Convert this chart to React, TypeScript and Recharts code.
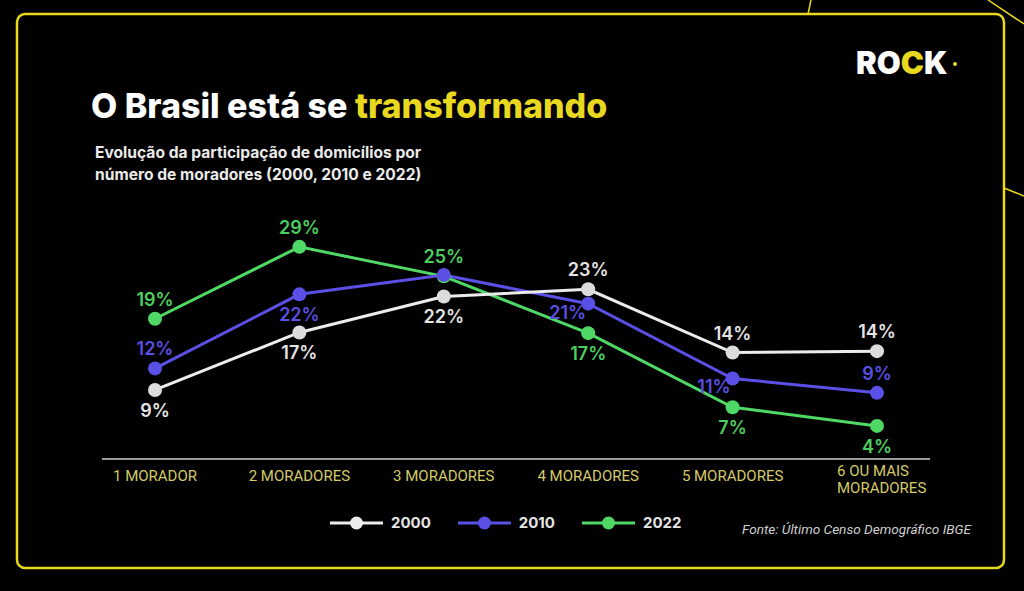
import { LineChart, Line, XAxis, YAxis, LabelList } from "recharts";

const categories = ["1 MORADOR", "2 MORADORES", "3 MORADORES", "4 MORADORES", "5 MORADORES", "6 OU MAIS\nMORADORES"];
const years = ["2000", "2010", "2022"];
const s2000 = [9, 17, 22, 23, 14.2, 14.4];
const s2010 = [12, 22.3, 25, 21, 10.6, 8.6];
const s2022 = [18.9, 28.9, 24.8, 16.9, 6.6, 4];
// where each value label sits relative to its point
const pos2000 = ["bottom", "bottom", "bottom", "top", "top", "top"];
const pos2010 = ["top", "bottom", "none", "left", "left", "top"];
const pos2022 = ["top", "top", "top", "bottom", "bottom", "bottom"];

const C2000 = "#ececec";
const C2010 = "#5b50e6";
const C2022 = "#4fd865";
const YELLOW = "#e8d81f";

const data = categories.map((c, i) => ({ cat: c, y2000: s2000[i], y2010: s2010[i], y2022: s2022[i] }));

const FONT = "Inter, 'Noto Sans', sans-serif";

function makeLabel(positions: string[], color: string) {
  return (p: any) => {
    const { x, y, value, index } = p;
    const where = positions[index];
    if (where === "none") return null;
    let tx = x, ty = y, anchor = "middle";
    if (where === "top") ty = y - 13;
    if (where === "bottom") ty = y + 27;
    if (where === "left") { tx = x - 2; ty = y + 15; anchor = "end"; }
    return (
      <text x={tx} y={ty} fill={color} textAnchor={anchor} fontFamily={FONT} fontSize={18} fontWeight={600}>
        {Math.round(value)}%
      </text>
    );
  };
}

function Tick(p: any) {
  const { x, y, payload } = p;
  const lines = String(payload.value).split("\n");
  const multi = lines.length > 1;
  const tx = multi ? x - 40 : x;
  return (
    <text x={tx} y={y + 14 - (lines.length - 1) * 5} fill="#d4ca66" fontFamily="Roboto, sans-serif" fontSize={15} textAnchor={multi ? "start" : "middle"}>
      {lines.map((l, i) => (
        <tspan key={i} x={tx} dy={i === 0 ? 0 : 17}>{l}</tspan>
      ))}
    </text>
  );
}

function LegendBox() {
  const colors = [C2000, C2010, C2022];
  return (
    <div style={{ display: "flex", gap: 27, alignItems: "center" }}>
      {years.map((yr, i) => (
        <div key={yr} style={{ display: "flex", alignItems: "center", gap: 8 }}>
          <svg width={53} height={14}>
            <line x1={0} y1={7} x2={53} y2={7} stroke={colors[i]} strokeWidth={3} />
            <circle cx={26.5} cy={7} r={6.5} fill={colors[i]} />
          </svg>
          <span style={{ color: "#e6e6e6", fontFamily: FONT, fontWeight: 700, fontSize: 15 }}>{yr}</span>
        </div>
      ))}
    </div>
  );
}

export default function App() {
  return (
    <div style={{ position: "absolute", left: 0, top: 0, width: 1024, height: 591, background: "#000", overflow: "hidden" }}>
      <svg width={1024} height={591} style={{ position: "absolute", left: 0, top: 0 }}>
        <rect x={17} y={14} width={987} height={554} rx={8} fill="none" stroke={YELLOW} strokeWidth={2.5} />
        <line x1={811} y1={0} x2={808} y2={14} stroke={YELLOW} strokeWidth={1.5} />
        <line x1={988} y1={0} x2={1024} y2={24} stroke={YELLOW} strokeWidth={1.5} />
        <line x1={1004} y1={188} x2={1024} y2={196} stroke={YELLOW} strokeWidth={1.5} />
        <text x={856} y={74} fontFamily={FONT} fontSize={31} fontWeight={900} fill="#fff">
          RO<tspan fill={YELLOW}>C</tspan>K
        </text>
        <circle cx={955} cy={64} r={2} fill={YELLOW} />
        <text x={91} y={118} fontFamily={FONT} fontSize={34} fontWeight={800} fill="#fff">
          O Brasil está se <tspan fill={YELLOW}>transformando</tspan>
        </text>
        <text x={95} y={158} fontFamily={FONT} fontSize={15.6} fontWeight={700} fill="#eaeaea">Evolução da participação de domicílios por</text>
        <text x={95} y={180} fontFamily={FONT} fontSize={15.6} fontWeight={700} fill="#eaeaea">número de moradores (2000, 2010 e 2022)</text>
        <text x={742} y={534} fontFamily="Roboto, sans-serif" fontSize={13.6} fontStyle="italic" fill="#cfcfcf">Fonte: Último Censo Demográfico IBGE</text>
      </svg>
      <div style={{ position: "absolute", left: 0, top: 0 }}>
        <LineChart width={1024} height={591} data={data} margin={{ top: 203, right: 94, left: 102, bottom: 82 }}>
          <XAxis dataKey="cat" height={50} padding={{ left: 53, right: 53 }} tickLine={false} axisLine={{ stroke: "#9a9a9a", strokeWidth: 2 }} tick={<Tick />} interval={0} />
          <YAxis hide domain={[-0.6, 35]} />
          <Line dataKey="y2022" name="2022" stroke={C2022} strokeWidth={3} dot={{ r: 7, fill: C2022, strokeWidth: 0 }} isAnimationActive={false}>
            <LabelList dataKey="y2022" content={makeLabel(pos2022, "#4ccf5f")} />
          </Line>
          <Line dataKey="y2010" name="2010" stroke={C2010} strokeWidth={3} dot={{ r: 7, fill: C2010, strokeWidth: 0 }} isAnimationActive={false}>
            <LabelList dataKey="y2010" content={makeLabel(pos2010, "#5a4fe0")} />
          </Line>
          <Line dataKey="y2000" name="2000" stroke={C2000} strokeWidth={3} dot={{ r: 7, fill: "#dcdcdc", strokeWidth: 0 }} isAnimationActive={false}>
            <LabelList dataKey="y2000" content={makeLabel(pos2000, "#e4e4e4")} />
          </Line>
        </LineChart>
      </div>
      <div style={{ position: "absolute", left: 330, top: 513 }}>
        <LegendBox />
      </div>
    </div>
  );
}
